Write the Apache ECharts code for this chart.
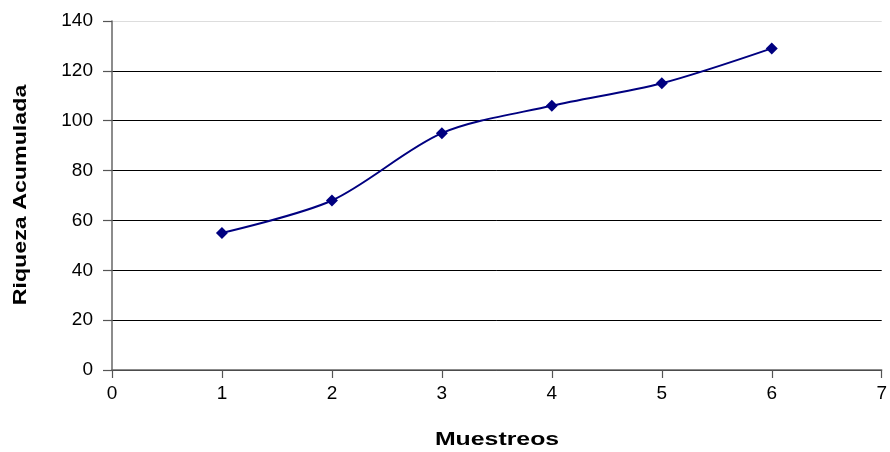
<!DOCTYPE html>
<html>
<head>
<meta charset="utf-8">
<script src="https://cdn.jsdelivr.net/npm/echarts@6/dist/echarts.min.js"></script>
<style>
  html, body { margin: 0; padding: 0; background: #fff; }
  #chart { width: 890px; height: 452px; }
</style>
</head>
<body>
<div id="chart"></div>
<script>
// Accumulated richness per sampling round
const muestreos = [1, 2, 3, 4, 5, 6];
const riqueza = [55, 68, 95, 106, 115, 129];

const xTicks = [0, 1, 2, 3, 4, 5, 6, 7];
const yTicks = [0, 20, 40, 60, 80, 100, 120, 140];

const xTitle = 'Muestreos';
const yTitle = 'Riqueza Acumulada';

const points = muestreos.map((m, i) => [m, riqueza[i]]);
const font = 'Liberation Sans, Arial, sans-serif';

const chart = echarts.init(document.getElementById('chart'));
chart.setOption({
  animation: false,
  backgroundColor: '#fff',
  grid: { left: 112, right: 8, top: 21, bottom: 82 },
  xAxis: {
    type: 'value',
    min: xTicks[0],
    max: xTicks[xTicks.length - 1],
    interval: 1,
    axisLine: { lineStyle: { color: '#666', width: 1.5 } },
    axisTick: { show: true, length: 8, lineStyle: { color: '#555', width: 1.2 } },
    axisLabel: { fontFamily: font, fontSize: 19, color: '#000', margin: 14 },
    splitLine: { show: false }
  },
  yAxis: {
    type: 'value',
    min: yTicks[0],
    max: yTicks[yTicks.length - 1],
    interval: 20,
    axisLine: { show: true, lineStyle: { color: '#666', width: 1.5 } },
    axisTick: { show: true, length: 9, lineStyle: { color: '#555', width: 1.2 } },
    axisLabel: { fontFamily: font, fontSize: 19, color: '#000', margin: 19 },
    splitLine: {
      show: true,
      lineStyle: { color: ['#000', '#000', '#000', '#000', '#000', '#000', '#000', '#ddd'], width: 1 }
    }
  },
  // Axis titles, set in a wide bold face
  graphic: [
    {
      type: 'text',
      x: 497, y: 440,
      scaleX: 1.38,
      style: {
        text: xTitle,
        font: 'bold 18px ' + font,
        fill: '#000',
        textAlign: 'center',
        textVerticalAlign: 'middle'
      }
    },
    {
      type: 'text',
      x: 21, y: 195,
      rotation: Math.PI / 2,
      scaleX: 1.29,
      style: {
        text: yTitle,
        font: 'bold 18px ' + font,
        fill: '#000',
        textAlign: 'center',
        textVerticalAlign: 'middle'
      }
    }
  ],
  series: [{
    type: 'line',
    data: points,
    smooth: 0.3,
    symbol: 'diamond',
    symbolSize: 12,
    lineStyle: { color: '#000080', width: 2 },
    itemStyle: { color: '#000080' }
  }]
});
</script>
</body>
</html>
